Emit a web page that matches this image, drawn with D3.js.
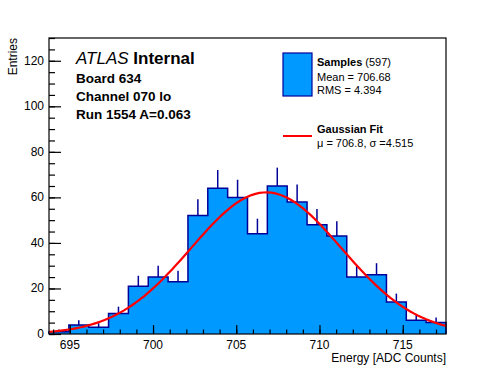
<!DOCTYPE html>
<html lang="en">

<head>
    <meta charset="UTF-8">
    <title>ATLAS Internal – Board 634 Channel 070 lo</title>
    <script src="https://d3js.org/d3.v7.min.js"></script>
    <style>
        body { margin: 0; background: #fff; }
        text { font-family: "Liberation Sans", Arial, Helvetica, sans-serif; fill: #000; }
    </style>
</head>

<body>
    <script>
        // histogram range and bin contents (20 bins)
        const histRange = [693.75, 717.6];
        const counts = [1, 4, 3, 9, 21, 25, 23, 52, 64, 60, 44, 65, 58, 48, 43, 25, 26, 14, 6, 5];

        // gaussian fit parameters
        const fitMu = 706.8;
        const fitSigma = 4.515;
        const fitAmp = 62.2;

        const xTicks = [695, 700, 705, 710, 715];
        const yTicks = [0, 20, 40, 60, 80, 100, 120];
        const infoLines = ["Board 634", "Channel 070 lo", "Run 1554 A=0.063"];

        const width = 496;
        const height = 372;
        const m = { left: 49, right: 50, top: 38, bottom: 38 };

        const svg = d3.select("body").append("svg")
            .attr("width", width)
            .attr("height", height);

        const x = d3.scaleLinear().domain(histRange).range([m.left, width - m.right]);
        const y = d3.scaleLinear().domain([0, 130]).range([height - m.bottom, m.top]);

        const binW = (histRange[1] - histRange[0]) / counts.length;
        const bins = counts.map((c, i) => ({ x0: histRange[0] + i * binW, x1: histRange[0] + (i + 1) * binW, n: c }));

        // filled step histogram
        const area = [[bins[0].x0, 0]];
        bins.forEach(b => { area.push([b.x0, b.n]); area.push([b.x1, b.n]); });
        area.push([bins[bins.length - 1].x1, 0]);

        svg.append("path")
            .attr("d", d3.line().x(d => x(d[0])).y(d => y(d[1]))(area))
            .attr("fill", "#0099ff")
            .attr("stroke", "#000099")
            .attr("stroke-width", 1.5);

        // error bars (upper halves show above the fill)
        svg.append("g").selectAll("line")
            .data(bins)
            .join("line")
            .attr("x1", d => x((d.x0 + d.x1) / 2))
            .attr("x2", d => x((d.x0 + d.x1) / 2))
            .attr("y1", d => y(d.n))
            .attr("y2", d => y(d.n + Math.sqrt(d.n)))
            .attr("stroke", "#000099")
            .attr("stroke-width", 1.5);

        // fit curve
        const gaus = v => fitAmp * Math.exp(-0.5 * ((v - fitMu) / fitSigma) ** 2);
        const fx = d3.range(histRange[0], histRange[1] + 0.001, (histRange[1] - histRange[0]) / 100);
        svg.append("path")
            .attr("d", d3.line().x(d => x(d)).y(d => y(gaus(d)))(fx))
            .attr("fill", "none")
            .attr("stroke", "#ff0000")
            .attr("stroke-width", 2.2);

        // frame
        svg.append("rect")
            .attr("x", m.left).attr("y", m.top)
            .attr("width", width - m.left - m.right)
            .attr("height", height - m.top - m.bottom)
            .attr("fill", "none")
            .attr("stroke", "#000")
            .attr("stroke-width", 1.2);

        // axes: ROOT style ticks pointing inside
        const xAxis = svg.append("g").attr("transform", `translate(0,${height - m.bottom})`);
        xAxis.call(d3.axisTop(x).tickValues(d3.range(694, 718, 1)).tickSize(4.5).tickFormat(""));
        xAxis.call(g => g.select(".domain").remove());
        const xMaj = svg.append("g").attr("transform", `translate(0,${height - m.bottom})`)
            .call(d3.axisTop(x).tickValues(xTicks).tickSize(9).tickFormat(""));
        xMaj.select(".domain").remove();
        svg.append("g").selectAll("text")
            .data(xTicks)
            .join("text")
            .attr("x", d => x(d))
            .attr("y", height - m.bottom + 15)
            .attr("text-anchor", "middle")
            .attr("font-size", 12)
            .text(d => d);

        const yMin = svg.append("g").attr("transform", `translate(${m.left},0)`)
            .call(d3.axisRight(y).tickValues(d3.range(0, 131, 5)).tickSize(6).tickFormat(""));
        yMin.select(".domain").remove();
        const yMaj = svg.append("g").attr("transform", `translate(${m.left},0)`)
            .call(d3.axisRight(y).tickValues(yTicks).tickSize(12).tickFormat(""));
        yMaj.select(".domain").remove();
        svg.append("g").selectAll("text")
            .data(yTicks)
            .join("text")
            .attr("x", m.left - 5)
            .attr("y", d => y(d) + 4)
            .attr("text-anchor", "end")
            .attr("font-size", 12)
            .text(d => d);

        svg.selectAll(".tick line").attr("stroke", "#000").attr("stroke-width", 1.2);

        // axis titles
        svg.append("text")
            .attr("x", width - m.right)
            .attr("y", height - m.bottom + 28)
            .attr("text-anchor", "end")
            .attr("font-size", 12)
            .text("Energy [ADC Counts]");
        svg.append("text")
            .attr("transform", `translate(17,${m.top}) rotate(-90)`)
            .attr("text-anchor", "end")
            .attr("font-size", 12)
            .text("Entries");

        // ATLAS label
        const atlas = svg.append("text").attr("x", 76).attr("y", 64).attr("font-size", 17);
        atlas.append("tspan").attr("font-style", "italic").text("ATLAS");
        atlas.append("tspan").attr("font-weight", "bold").text(" Internal");
        svg.append("g").selectAll("text")
            .data(infoLines)
            .join("text")
            .attr("x", 76)
            .attr("y", (d, i) => 83 + i * 18)
            .attr("font-size", 13.5)
            .attr("font-weight", "bold")
            .text(d => d);

        // legend
        const lg = svg.append("g");
        lg.append("rect")
            .attr("x", 283).attr("y", 53).attr("width", 29).attr("height", 43)
            .attr("fill", "#0099ff").attr("stroke", "#000099").attr("stroke-width", 1.2);
        const s1 = lg.append("text").attr("x", 317).attr("y", 66).attr("font-size", 11);
        s1.append("tspan").attr("font-weight", "bold").text("Samples");
        s1.append("tspan").text(" (597)");
        lg.append("text").attr("x", 317).attr("y", 81).attr("font-size", 11).text("Mean = 706.68");
        lg.append("text").attr("x", 317).attr("y", 94).attr("font-size", 11).text("RMS = 4.394");
        lg.append("line")
            .attr("x1", 283).attr("x2", 312).attr("y1", 136).attr("y2", 136)
            .attr("stroke", "#ff0000").attr("stroke-width", 2);
        lg.append("text").attr("x", 317).attr("y", 133).attr("font-size", 11)
            .attr("font-weight", "bold").text("Gaussian Fit");
        lg.append("text").attr("x", 317).attr("y", 147).attr("font-size", 11).text("\u03bc = 706.8, \u03c3 =4.515");
    </script>
</body>

</html>
